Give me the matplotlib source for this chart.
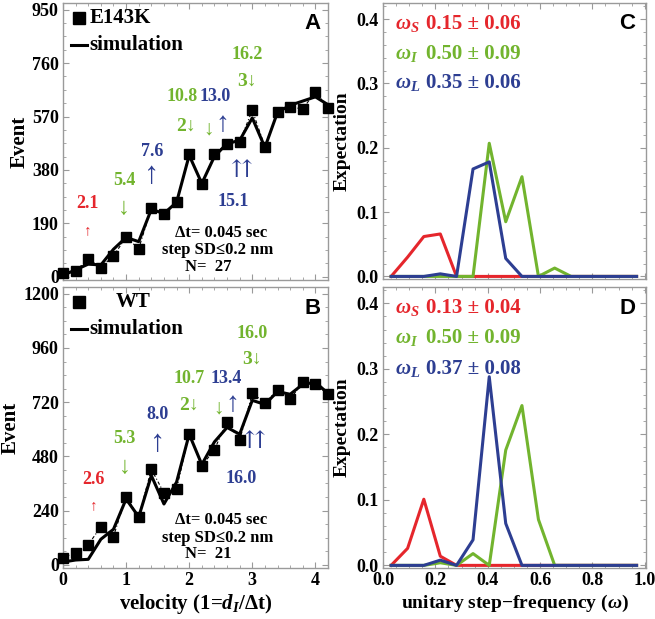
"""Step-frequency figure: event counts vs velocity and expectation curves."""

import matplotlib

matplotlib.use("Agg")
import matplotlib.pyplot as plt
from matplotlib.ticker import FormatStrFormatter, MultipleLocator

RED = "#e5262c"
GREEN = "#72b42e"
BLUE = "#2d3e92"
FRAME = "#9a9a9a"
SERIF = ["Liberation Serif", "DejaVu Serif", "DejaVu Sans"]
SANS = "Liberation Sans"

# ---- panel A / B data (velocity bins) ----
velocity = [0.0, 0.2, 0.4, 0.6, 0.8, 1.0, 1.2, 1.4, 1.6, 1.8, 2.0,
            2.2, 2.4, 2.6, 2.8, 3.0, 3.2, 3.4, 3.6, 3.8, 4.0, 4.2]

e143k_events = [12, 21, 63, 33, 75, 140, 100, 244, 224, 265, 438,
                329, 435, 474, 481, 592, 463, 585, 604, 597, 658, 602]
e143k_sim = [5, 25, 45, 42, 98, 140, 125, 240, 225, 265, 432,
             332, 428, 474, 485, 565, 460, 585, 610, 625, 640, 612]

wt_events = [31, 53, 89, 168, 125, 302, 212, 423, 318, 336, 578,
             438, 510, 634, 551, 759, 718, 773, 733, 808, 802, 755]
wt_sim = [12, 21, 24, 113, 157, 291, 212, 395, 269, 366, 578,
          444, 544, 608, 578, 728, 710, 767, 755, 799, 808, 759]

# ---- panel C / D data (unitary step-frequency bins) ----
omega = [0.031, 0.094, 0.156, 0.219, 0.281, 0.344, 0.406, 0.469,
         0.531, 0.594, 0.656, 0.719, 0.781, 0.844, 0.906, 0.969]

c_short = [0, 0.030, 0.062, 0.066, 0, 0, 0, 0, 0, 0, 0, 0, 0, 0, 0, 0]
c_inter = [0, 0, 0, 0, 0, 0, 0.207, 0.085, 0.155, 0, 0.013, 0, 0, 0, 0, 0]
c_long = [0, 0, 0, 0.004, 0, 0.167, 0.178, 0.028, 0, 0, 0, 0, 0, 0, 0, 0]

d_short = [0, 0.026, 0.101, 0.014, 0, 0, 0, 0, 0, 0, 0, 0, 0, 0, 0, 0]
d_inter = [0, 0, 0, 0.004, 0, 0.018, 0, 0.176, 0.244, 0.070, 0, 0, 0, 0, 0, 0]
d_long = [0, 0, 0, 0.008, 0, 0.039, 0.288, 0.064, 0, 0, 0, 0, 0, 0, 0, 0]

W, H = 655, 619


def _axes(fig, left, top, right, bottom):
    return fig.add_axes([left / W, 1 - bottom / H, (right - left) / W, (bottom - top) / H])


def _style(ax):
    for sp in ax.spines.values():
        sp.set_color(FRAME)
        sp.set_linewidth(1.0)
    ax.tick_params(which="both", direction="in", top=True, right=True, color=FRAME)
    ax.tick_params(which="major", length=4, width=0.8, pad=3)
    ax.tick_params(which="minor", length=2, width=0.6)
    for lab in ax.get_xticklabels() + ax.get_yticklabels():
        lab.set_fontfamily(SERIF)
        lab.set_fontweight("bold")
        lab.set_fontsize(13)


def _bold(ax, x, y, s, color="black", size=13, weight="bold"):
    ax.text(x, y, s, color=color, fontsize=size, fontweight=weight,
            fontfamily=SERIF, ha="center", va="center")


def _velocity_panel(ax, events, sim, name, letter, ymax, ystep, ann, n):
    ax.plot(velocity, events, color="black", lw=0.8, ls=(0, (3, 2, 1, 2)), zorder=2)
    ax.plot(velocity, sim, color="black", lw=2.2, zorder=3)
    ax.plot(velocity, events, "s", color="black", ms=7, zorder=4, clip_on=False)
    ax.set_xlim(0, 4.2)
    ax.set_ylim(-0.012 * ymax, ymax * 1.025)
    ax.xaxis.set_major_locator(MultipleLocator(1))
    ax.xaxis.set_minor_locator(MultipleLocator(0.2))
    ax.yaxis.set_major_locator(MultipleLocator(ystep))
    ax.yaxis.set_minor_locator(MultipleLocator(ystep / 4))
    ax.set_ylabel("Event", fontfamily=SERIF, fontweight="bold", fontsize=15, labelpad=2)
    _style(ax)

    # legend drawn by hand like the original
    ax.plot([0.06], [0.945], "s", color="black", ms=8, transform=ax.transAxes, clip_on=False)
    ax.text(0.1 if letter == "A" else 0.2, 0.945, name, transform=ax.transAxes,
            fontsize=15, fontweight="bold", fontfamily=SERIF, va="center")
    ax.plot([0.03, 0.09], [0.85, 0.85], color="black", lw=2.2, transform=ax.transAxes)
    ax.text(0.1, 0.85, "simulation", transform=ax.transAxes,
            fontsize=15, fontweight="bold", fontfamily=SERIF, va="center")
    ax.text(0.94, 0.925, letter, transform=ax.transAxes, fontsize=16,
            fontweight="bold", fontfamily=SANS, ha="center", va="center")

    for x, y, s, c, sz in ann:
        _bold(ax, x, y, s, color=c, size=sz,
              weight="normal" if s == "⇈" else "bold")

    _bold(ax, 2.5, 0.165 * ymax, "Δt= 0.045 sec", size=12)
    _bold(ax, 2.45, 0.10 * ymax, "step SD≤0.2 nm", size=12)
    _bold(ax, 2.3, 0.038 * ymax, f"N=  {n}", size=12)


def _freq_panel(ax, short, inter, long_, letter, labels):
    ax.plot(omega, short, color=RED, lw=2.2)
    ax.plot(omega, inter, color=GREEN, lw=2.2)
    ax.plot(omega, long_, color=BLUE, lw=2.2)
    ax.set_xlim(0, 1.005)
    ax.set_ylim(-0.004, 0.425)
    ax.xaxis.set_major_locator(MultipleLocator(0.2))
    ax.xaxis.set_minor_locator(MultipleLocator(0.05))
    ax.yaxis.set_major_locator(MultipleLocator(0.1))
    ax.yaxis.set_minor_locator(MultipleLocator(0.02))
    ax.set_ylabel("Expectation", fontfamily=SERIF, fontweight="bold", fontsize=14, labelpad=4)
    _style(ax)
    ax.yaxis.set_major_formatter(FormatStrFormatter("%.1f"))
    ax.text(0.93, 0.925, letter, transform=ax.transAxes, fontsize=16,
            fontweight="bold", fontfamily=SANS, ha="center", va="center")
    subs = ["S", "I", "L"]
    for i, (val, c) in enumerate(zip(labels, [RED, GREEN, BLUE])):
        y = 0.925 - i * 0.108
        ax.text(0.045, y, rf"$\omega_{{{subs[i]}}}$", transform=ax.transAxes, color=c,
                fontsize=15, va="center")
        ax.text(0.165, y, val, transform=ax.transAxes, color=c, fontsize=15,
                fontweight="bold", fontfamily=SERIF, va="center")


def main():
    plt.rcParams["mathtext.fontset"] = "custom"
    plt.rcParams["mathtext.it"] = "Liberation Serif:italic:bold"
    plt.rcParams["mathtext.rm"] = "Liberation Serif:bold"
    fig = plt.figure(figsize=(W / 100, H / 100), dpi=100)

    ax_a = _axes(fig, 63, 3, 328, 280)
    ax_b = _axes(fig, 63, 287, 328, 568)
    ax_c = _axes(fig, 383, 3, 646, 279)
    ax_d = _axes(fig, 383, 287, 646, 568)

    ann_a = [
        (0.39, 259, "2.1", RED, 13), (0.39, 164, "↑", RED, 11),
        (0.97, 343, "5.4", GREEN, 13), (0.97, 244, "↓", GREEN, 17),
        (1.41, 445, "7.6", BLUE, 13), (1.41, 360, "↑", BLUE, 22),
        (1.89, 642, "10.8", GREEN, 13), (1.95, 536, "2↓", GREEN, 14),
        (2.41, 642, "13.0", BLUE, 13), (2.31, 525, "↓", GREEN, 15),
        (2.52, 540, "↑", BLUE, 20),
        (2.92, 792, "16.2", GREEN, 13), (2.92, 697, "3↓", GREEN, 14),
        (2.69, 268, "15.1", BLUE, 13), (2.82, 374, "⇈", BLUE, 17),
    ]
    ann_b = [
        (0.48, 379, "2.6", RED, 13), (0.48, 264, "↑", RED, 11),
        (0.98, 560, "5.3", GREEN, 13), (0.98, 430, "↓", GREEN, 17),
        (1.5, 664, "8.0", BLUE, 13), (1.5, 535, "↑", BLUE, 22),
        (2.0, 826, "10.7", GREEN, 13), (2.0, 707, "2↓", GREEN, 14),
        (2.58, 826, "13.4", BLUE, 13), (2.47, 692, "↓", GREEN, 15),
        (2.68, 710, "↑", BLUE, 20),
        (3.0, 1026, "16.0", GREEN, 13), (3.0, 908, "3↓", GREEN, 14),
        (2.82, 380, "16.0", BLUE, 13), (3.02, 540, "⇈", BLUE, 17),
    ]

    _velocity_panel(ax_a, e143k_events, e143k_sim, "E143K", "A", 950, 190, ann_a, 27)
    ax_a.set_xticklabels([])
    _velocity_panel(ax_b, wt_events, wt_sim, "WT", "B", 1200, 240, ann_b, 21)
    ax_b.set_xlabel(r"velocity (1=$d_I$/$\Delta$t)", fontfamily=SERIF,
                    fontweight="bold", fontsize=15, labelpad=2)

    _freq_panel(ax_c, c_short, c_inter, c_long, "C",
                ["0.15 ± 0.06", "0.50 ± 0.09", "0.35 ± 0.06"])
    ax_c.set_xticklabels([])
    _freq_panel(ax_d, d_short, d_inter, d_long, "D",
                ["0.13 ± 0.04", "0.50 ± 0.09", "0.37 ± 0.08"])
    ax_d.set_xlabel(r"unitary step$-$frequency ($\omega$)", fontfamily=SERIF,
                    fontweight="bold", fontsize=14, labelpad=3)

    fig.savefig("out.png", dpi=100)
    plt.close(fig)


if __name__ == "__main__":
    main()
